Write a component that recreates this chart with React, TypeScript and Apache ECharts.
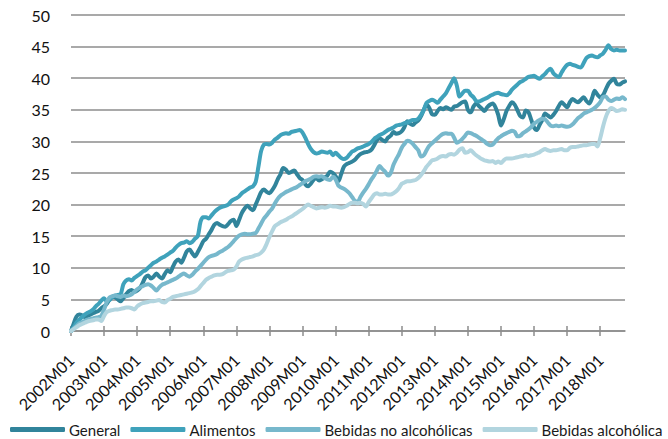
import React, { useEffect, useRef } from "react";
import * as echarts from "echarts";

const seriesNames = ["General", "Alimentos", "Bebidas no alcohólicas", "Bebidas alcohólica"];
const colors = ["#31849b", "#3fa2bb", "#77b8cc", "#b2d5df"];

const yTicks = { min: 0, max: 50, interval: 5 };

// categories 2002M01 .. 2018M10
const categories: string[] = [];
for (let y = 2002; y <= 2018; y++) {
  for (let m = 1; m <= 12; m++) {
    if (y === 2018 && m > 10) break;
    categories.push(`${y}M${m < 10 ? "0" + m : m}`);
  }
}

const general = [
  0, 1.2, 2.3, 2.6, 2.5, 2.2, 2.4, 2.6, 2.8, 3.0, 3.2, 3.6,
  3.9, 4.3, 5.0, 5.4, 5.3, 5.0, 4.7, 5.2, 5.8, 6.3, 6.5, 6.2,
  6.4, 6.8, 7.6, 8.5, 8.8, 8.3, 8.6, 9.1, 8.6, 8.3, 9.0, 9.6,
  9.3, 10.2, 11.0, 11.3, 10.8, 11.6, 12.6, 12.9, 12.3, 11.8, 12.5, 13.3,
  14.2, 14.6, 15.3, 16.0, 16.8, 17.1, 16.8, 16.6, 16.5, 16.9, 17.4, 17.6,
  16.6, 17.6, 18.7, 19.4, 19.8, 19.4, 19.1, 20.0, 21.0, 22.0, 22.4, 22.0,
  21.8, 22.3, 23.0, 24.0, 24.8, 25.8, 25.5, 25.0, 25.2, 25.4, 24.8, 24.2,
  23.9, 23.2, 22.9, 23.3, 23.9, 24.2, 23.8, 24.0, 24.3, 24.6, 25.2, 25.0,
  24.5, 23.7, 24.8, 26.0, 26.4, 26.6, 26.8, 27.1, 27.6, 28.0, 28.2, 28.3,
  28.4, 28.7, 29.4, 30.2, 30.5, 30.2, 30.0, 30.6, 30.9, 31.5, 31.2, 31.3,
  31.6, 32.3, 33.2, 32.8, 32.6, 33.0, 33.3, 34.0, 35.0, 35.8, 35.3, 34.3,
  34.2, 34.8, 35.3, 35.1, 35.4, 35.2, 35.0, 35.5, 35.6, 35.9, 36.2, 36.3,
  35.0, 34.6, 35.5, 36.0, 35.6, 35.2, 34.8, 35.4, 35.8, 36.0, 35.4, 34.2,
  32.5, 33.5, 34.8, 35.6, 36.2, 35.8, 34.9, 34.0, 33.8, 34.9, 34.6, 33.4,
  32.2, 31.8, 32.6, 33.4, 34.4, 34.1, 33.8, 34.2, 34.8, 35.6, 36.2, 35.8,
  35.4, 36.2, 36.7, 36.4, 36.2, 36.6, 37.0, 36.4, 36.0, 36.8, 38.0, 37.4,
  37.0, 37.3, 38.2, 39.1, 39.6, 39.9, 39.1, 39.0, 39.3, 39.5,
];

const alimentos = [
  0, 0.6, 1.3, 1.8, 2.2, 2.6, 2.9, 3.1, 3.4, 3.9, 4.3, 4.8,
  5.2, 4.7, 4.9, 5.4, 5.6, 5.7, 5.8, 7.4, 8.0, 8.2, 8.0, 8.4,
  8.7, 9.0, 9.4, 9.6, 10.0, 10.4, 10.8, 11.0, 11.3, 11.6, 11.8, 12.1,
  12.4, 12.7, 13.2, 13.6, 13.9, 14.0, 14.2, 13.9, 14.1, 14.6, 15.0, 17.3,
  18.0, 18.0, 17.8, 18.3, 18.8, 19.2, 19.5, 19.7, 19.8, 20.0, 20.5, 20.8,
  21.0, 21.3, 21.8, 22.1, 22.4, 22.7, 22.9, 23.6, 26.0, 28.5, 29.5, 29.6,
  29.5, 29.8, 30.3, 30.6, 31.0, 31.2, 31.3, 31.2, 31.5, 31.6, 31.7, 31.8,
  31.4, 30.6, 29.6, 28.8, 28.3, 28.1, 28.2, 28.4, 28.3, 28.2, 28.4, 27.8,
  28.2, 27.8, 27.4, 27.2, 27.4, 27.9, 28.4, 28.6, 28.9, 29.0, 29.2, 29.4,
  29.6, 29.9, 30.4, 30.7, 31.0, 31.2, 31.5, 31.8, 32.0, 32.2, 32.5, 32.6,
  32.7, 32.9, 33.0, 33.2, 33.4, 33.4, 33.6, 34.2, 35.0, 36.1, 36.4, 36.6,
  36.4, 36.1, 36.6, 37.1, 37.6, 38.4, 39.2, 40.0, 38.8, 37.1, 37.6, 38.0,
  38.0, 37.4, 37.0, 36.4, 36.3, 36.5, 36.7, 36.9, 37.2, 37.4, 37.6, 37.7,
  37.5, 37.4, 37.3, 37.6, 38.2, 38.6, 39.0, 39.4, 39.6, 39.9, 40.2, 40.3,
  40.4, 40.1, 39.9, 40.3, 40.7, 41.2, 41.5, 40.8, 40.4, 40.2, 40.9, 41.6,
  42.1, 42.3, 42.1, 42.0, 41.8, 41.7, 42.4, 43.2, 43.5, 43.6, 43.4, 43.3,
  43.6, 43.9, 44.5, 45.2, 44.6, 44.4, 44.5, 44.4, 44.4, 44.4,
];

const bebidasNoAlc = [
  0, 0.4, 0.8, 1.2, 1.4, 1.6, 1.8, 1.9, 2.0, 2.1, 2.2, 2.4,
  3.4, 4.6, 5.3, 5.5, 5.6, 5.5, 5.4, 5.6, 5.5, 5.6, 5.8, 6.2,
  6.6, 6.9, 7.1, 7.3, 7.4, 7.2, 6.8, 6.4, 6.9, 7.3, 7.5, 7.7,
  7.9, 8.1, 8.3, 8.6, 8.9, 9.1, 8.8, 8.6, 8.9, 9.4, 9.8, 10.3,
  10.8, 11.3, 11.7, 11.9, 12.0, 12.2, 12.5, 12.7, 13.0, 13.3, 13.7, 14.2,
  14.7, 15.1, 15.3, 15.4, 15.3, 15.3, 15.4, 15.5, 16.2, 17.0, 17.8, 18.3,
  18.9, 19.4, 20.2, 20.9, 21.4, 21.7, 22.0, 22.2, 22.4, 22.6, 22.8, 23.1,
  23.4, 23.7, 23.9, 24.1, 24.4, 24.5, 24.4, 24.5, 24.2, 24.0, 23.9, 24.4,
  24.0, 23.0, 22.7, 22.5, 22.2, 21.8, 21.2, 20.6, 20.4, 21.2, 21.9, 22.5,
  23.2, 24.0, 24.6, 25.4, 26.1, 25.6, 25.2, 24.6, 25.0, 26.3, 27.2, 28.0,
  29.0, 29.6, 30.1, 30.0, 29.6, 29.1, 28.6, 27.6, 27.8, 28.6, 29.3, 29.7,
  30.1, 30.5, 30.9, 31.2, 31.3, 31.2, 31.2, 30.6, 29.8, 30.0, 30.4, 30.9,
  31.4, 31.3, 31.1, 30.9, 30.6, 30.3, 30.0, 29.6, 29.4, 29.5, 30.0, 30.5,
  30.8, 31.1, 31.3, 31.5, 31.7, 31.5, 30.8, 30.9, 31.3, 31.6, 31.9, 32.3,
  32.8, 33.1, 33.4, 33.6, 33.5, 33.0, 32.5, 32.4, 32.5, 32.4, 32.5, 32.4,
  32.3, 32.4, 32.7, 33.2, 33.7, 34.0, 34.4, 34.6, 34.8, 35.0, 35.3, 35.7,
  36.2, 37.0, 37.1, 36.6, 36.4, 36.6, 36.8, 36.7, 37.0, 36.7,
];

const bebidasAlc = [
  0, 0.3, 0.6, 0.9, 1.1, 1.3, 1.5, 1.6, 1.7, 1.8, 1.8, 1.6,
  2.4, 3.0, 3.2, 3.3, 3.4, 3.4, 3.5, 3.6, 3.7, 3.7, 3.6, 3.4,
  3.9, 4.2, 4.4, 4.5, 4.6, 4.7, 4.7, 4.8, 4.9, 4.6, 4.5, 4.9,
  5.1, 5.4, 5.5, 5.6, 5.7, 5.8, 5.9, 6.0, 6.1, 6.3, 6.6, 7.1,
  7.6, 8.1, 8.4, 8.6, 8.8, 8.9, 8.9, 9.0, 9.3, 9.5, 9.6, 9.7,
  10.2, 11.0, 11.3, 11.5, 11.6, 11.7, 11.8, 12.0, 12.1, 12.4, 12.9, 13.8,
  14.9, 15.8, 16.6, 16.9, 17.2, 17.4, 17.6, 17.9, 18.1, 18.4, 18.7, 19.0,
  19.3, 19.7, 20.0, 19.8, 19.6, 19.4, 19.5, 19.6, 19.5, 19.6, 19.8, 19.7,
  19.7, 19.6, 19.5, 19.6, 19.8, 20.1, 20.3, 20.3, 20.2, 20.3, 20.1, 19.7,
  20.4, 21.0, 21.6, 21.8, 21.6, 21.6, 21.7, 21.6, 21.6, 21.8, 22.1, 22.6,
  23.3, 23.5, 23.7, 23.7, 23.8, 23.9, 24.2, 24.7, 25.3, 26.0, 26.5, 27.0,
  27.1, 27.3, 27.6, 27.7, 27.6, 27.9, 28.0, 27.9, 28.2, 28.7, 28.9, 28.2,
  28.3, 28.6, 28.2, 27.8, 27.5, 27.2, 27.0, 26.9, 26.8, 26.9, 26.6, 26.8,
  26.6, 27.0, 27.3, 27.3, 27.3, 27.4, 27.5, 27.6, 27.7, 27.8, 27.7, 27.8,
  27.9, 28.1, 28.3, 28.6, 28.8, 28.6, 28.5, 28.6, 28.6, 28.7, 28.8, 28.6,
  28.6, 29.0, 29.1, 29.1, 29.2, 29.3, 29.4, 29.4, 29.5, 29.6, 29.6, 29.2,
  30.5, 32.3, 33.8, 34.8, 35.3, 35.1, 34.8, 34.9, 35.1, 35.0,
];

const seriesData = [general, alimentos, bebidasNoAlc, bebidasAlc];

const FONT = "Lato, 'Open Sans', sans-serif";
const GRID_COLOR = "#8c8c8c";

export default function App() {
  const ref = useRef<HTMLDivElement>(null);

  useEffect(() => {
    if (!ref.current) return;
    const chart = echarts.init(ref.current, undefined, { renderer: "svg" });
    const yearTick = (index: number) => index % 12 === 0;
    chart.setOption({
      animation: false,
      backgroundColor: "#ffffff",
      textStyle: { fontFamily: FONT },
      grid: { left: 71, right: 43, top: 15, bottom: 108, containLabel: false },
      legend: {
        bottom: 2,
        left: 10,
        width: 700,
        padding: 0,
        icon: "roundRect",
        itemWidth: 55,
        itemHeight: 5,
        itemGap: 10,
        textStyle: { fontFamily: FONT, fontSize: 15, color: "#1a1a1a", padding: [0, 0, 0, -1] },
        data: seriesNames,
      },
      xAxis: [
        {
          type: "category",
          data: categories,
          boundaryGap: false,
          axisLine: { show: true, lineStyle: { color: GRID_COLOR, width: 1.5 } },
          axisTick: { show: true, interval: yearTick, length: 5, lineStyle: { color: GRID_COLOR, width: 1.5 } },
          axisLabel: {
            interval: yearTick,
            rotate: 45,
            margin: 26,
            fontFamily: FONT,
            fontSize: 16,
            color: "#111",
          },
          splitLine: { show: false },
        },
        {
          type: "category",
          data: categories,
          boundaryGap: false,
          position: "bottom",
          axisLine: { show: false },
          axisTick: { show: true, inside: true, interval: yearTick, length: 5, lineStyle: { color: GRID_COLOR, width: 1.5 } },
          axisLabel: { show: false },
          splitLine: { show: false },
        },
      ],
      yAxis: {
        type: "value",
        min: yTicks.min,
        max: yTicks.max,
        interval: yTicks.interval,
        axisLine: { show: false },
        axisTick: { show: false },
        axisLabel: { margin: 21, fontFamily: FONT, fontSize: 16, color: "#111" },
        splitLine: { show: true, lineStyle: { color: GRID_COLOR, width: 1.5 } },
      },
      series: seriesNames.map((name, i) => ({
        name,
        type: "line",
        data: seriesData[i],
        xAxisIndex: 0,
        showSymbol: false,
        symbol: "none",
        smooth: 0.3,
        lineStyle: { color: colors[i], width: 4, cap: "round", join: "round" },
        itemStyle: { color: colors[i] },
        z: 2 + i,
      })),
    });
    return () => chart.dispose();
  }, []);

  return (
    <div
      ref={ref}
      style={{ position: "fixed", left: 0, top: 0, width: 668, height: 439, background: "#fff" }}
    />
  );
}
